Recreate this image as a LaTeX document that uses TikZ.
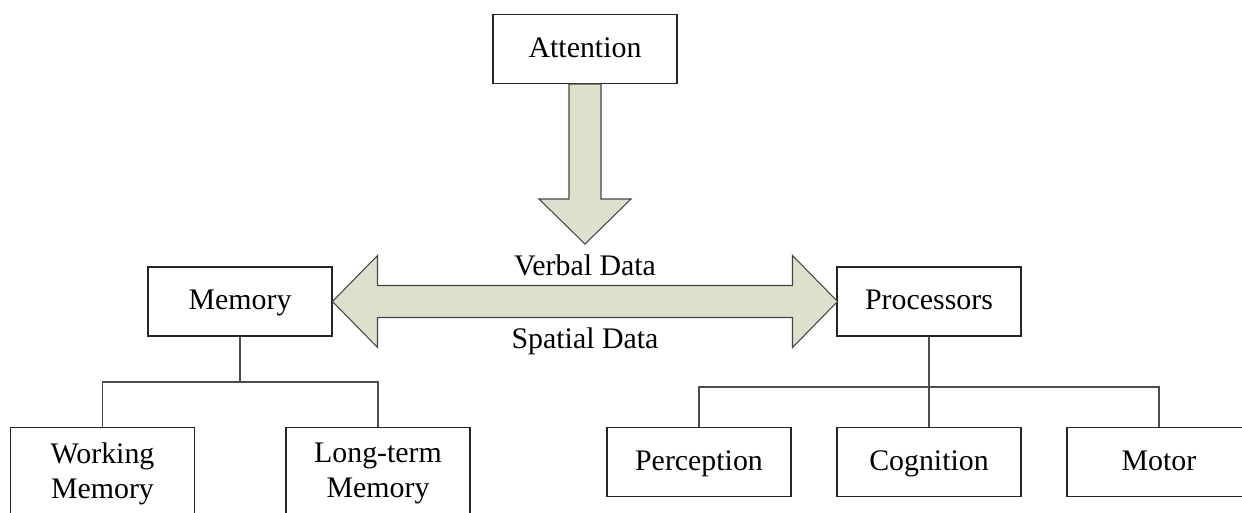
\documentclass[tikz,border=0pt]{standalone}
\usepackage{fontspec}
\setmainfont{Liberation Serif}
\usepackage{tikz}
\usepackage{xcolor}
\definecolor{armfill}{RGB}{220,225,205}
\definecolor{armline}{RGB}{70,70,70}
\tikzset{
  boxbase/.style={draw=black!85, line width=0.6pt, fill=white, minimum width=3.68cm, minimum height=1.38cm, inner sep=0pt, font=\fontsize{17}{20}\selectfont},
  box/.style={boxbase, text height=0.5cm, text depth=0.16cm},
  tallbox/.style={boxbase, minimum height=1.84cm, align=center},
  blockarrow/.style={draw=armline, line width=0.6pt, fill=armfill, line join=miter},
  link/.style={draw=black!70, line width=0.6pt},
  lbl/.style={inner sep=0pt, anchor=base, font=\fontsize{17}{20}\selectfont}
}

\begin{document}
\begin{tikzpicture}[x=0.02cm,y=-0.02cm]
\useasboundingbox (0,0) rectangle (1242,513);
% top and middle boxes
\node[box] (att) at (585,49) {Attention};
\node[box] (mem) at (240,301.5) {Memory};
\node[box] (proc) at (929,301.5) {Processors};
% block arrows
\draw[blockarrow] (att.south) ++(-16,0) -- ++(0,115) -- ++(-30,0) -- ++(46,45)
  -- ++(46,-45) -- ++(-30,0) -- ++(0,-115) -- cycle;
\draw[blockarrow] (mem.east) -- ++(45,-46) -- ++(0,30) -- ++(415,0) -- ++(0,-30)
  -- ++(45,46) -- ++(-45,46) -- ++(0,-30) -- ++(-415,0) -- ++(0,30) -- cycle;
\node[lbl] (verbal) at (585,276) {Verbal Data};
\node[lbl] (spatial) at (585,349) {Spatial Data};
% memory branch
\node[tallbox, anchor=north] (wm) at (102.5,427) {Working\\Memory};
\node[tallbox, anchor=north] (ltm) at (378,427) {Long-term\\Memory};
\coordinate (mj) at (240,382);
\draw[link] (mem.south) -- (mj);
\draw[link] (mj) -| (wm.north);
\draw[link] (mj) -| (ltm.north);
% processor branch
\foreach \n/\x/\t in {per/699/Perception, cog/929/Cognition, mot/1159/Motor}
  \node[box, anchor=north] (\n) at (\x,427) {\t};
\coordinate (pj) at (929,387);
\draw[link] (proc.south) -- (pj);
\draw[link] (pj) -| (per.north);
\draw[link] (pj) -- (cog.north);
\draw[link] (pj) -| (mot.north);
\end{tikzpicture}
\end{document}
